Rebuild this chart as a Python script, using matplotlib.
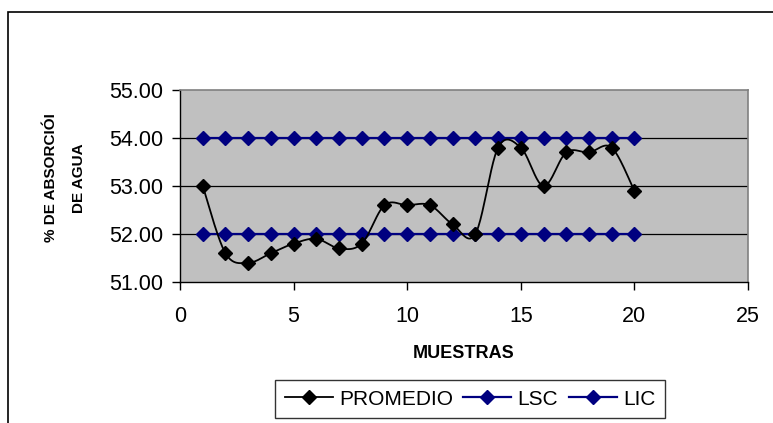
import numpy as np
import matplotlib
matplotlib.use("Agg")
import matplotlib.pyplot as plt
from matplotlib.patches import Rectangle

plt.rcParams['font.family'] = ['Liberation Sans', 'DejaVu Sans']

# chart data
muestras = list(range(1, 21))
promedio = [53.0, 51.6, 51.4, 51.6, 51.8, 51.9, 51.7, 51.8, 52.6, 52.6,
            52.6, 52.2, 52.0, 53.8, 53.8, 53.0, 53.7, 53.7, 53.8, 52.9]
lsc = [54.0] * 20
lic = [52.0] * 20
y_ticks = [51, 52, 53, 54, 55]
x_ticks = [0, 5, 10, 15, 20, 25]


def smooth(x, y, steps=24):
    # catmull-rom curve through the points, like excel's smoothed line
    x = np.asarray(x, float)
    y = np.asarray(y, float)
    px = np.concatenate([[x[0]], x, [x[-1]]])
    py = np.concatenate([[y[0]], y, [y[-1]]])
    xs, ys = [], []
    t = np.linspace(0, 1, steps)
    for i in range(1, len(px) - 2):
        for p, out in ((px, xs), (py, ys)):
            p0, p1, p2, p3 = p[i - 1], p[i], p[i + 1], p[i + 2]
            m1 = (p2 - p0) / 2
            m2 = (p3 - p1) / 2
            h00 = 2 * t**3 - 3 * t**2 + 1
            h10 = t**3 - 2 * t**2 + t
            h01 = -2 * t**3 + 3 * t**2
            h11 = t**3 - t**2
            out.extend(h00 * p1 + h10 * m1 + h01 * p2 + h11 * m2)
    return xs, ys


fig = plt.figure(figsize=(7.73, 4.23), dpi=100)
ax = fig.add_axes([180 / 773, 1 - 282 / 423, 568 / 773, 192 / 423])
ax.set_facecolor('#C0C0C0')

navy = '#000080'
for y in y_ticks[1:-1]:
    ax.axhline(y, color='black', lw=0.9, zorder=1)

lsc_line, = ax.plot(muestras, lsc, color=navy, lw=1.6, marker='D', ms=7.5,
                    mec=navy, mfc=navy, zorder=3)
lic_line, = ax.plot(muestras, lic, color=navy, lw=1.6, marker='D', ms=7.5,
                    mec=navy, mfc=navy, zorder=3)
sx, sy = smooth(muestras, promedio)
ax.plot(sx, sy, color='black', lw=1.3, zorder=4)
ax.plot(muestras, promedio, ls='none', marker='D', ms=7.5, color='black',
        zorder=5)

ax.set_xlim(0, 25)
ax.set_ylim(51, 55)
ax.set_xticks(x_ticks)
ax.set_yticks(y_ticks)
ax.set_yticklabels([f'{v:.2f}' for v in y_ticks])
ax.tick_params(axis='both', direction='out', length=6, width=1,
               labelsize=15.5, color='black')
ax.tick_params(axis='y', pad=6)
ax.tick_params(axis='x', pad=11)

for side in ('top', 'right'):
    ax.spines[side].set_color('#808080')
    ax.spines[side].set_linewidth(1.2)
for side in ('left', 'bottom'):
    ax.spines[side].set_color('black')
    ax.spines[side].set_linewidth(1)

ax.set_xlabel('MUESTRAS', fontsize=13, fontweight='bold')
ax.xaxis.set_label_coords(0.5, (282 - 353) / 192)
ax.xaxis.label.set_va('center')
ax.set_ylabel('% DE ABSORCIÓI\nDE AGUA', fontsize=11, fontweight='bold',
              linespacing=2.2)
ax.yaxis.set_label_coords((65 - 180) / 568, (282 - 178) / 192)
ax.yaxis.label.set_va('center')

# legend, with a black square frame
h_prom = plt.Line2D([], [], color='black', lw=1.3, marker='D', ms=7.5)
leg = fig.legend([h_prom, lsc_line, lic_line],
                 ['PROMEDIO', 'LSC', 'LIC'], ncol=3, fontsize=15,
                 loc='center', bbox_to_anchor=(470 / 773, 1 - 399 / 423),
                 frameon=True, fancybox=False, handlelength=2.3,
                 handletextpad=0.3, columnspacing=0.5, borderpad=0.45)
leg.get_frame().set_edgecolor('black')
leg.get_frame().set_linewidth(1)

# outer chart border (runs off the right and bottom of the picture)
fig.patches.append(Rectangle((8 / 773, -0.1), 1.2, 1 - 12 / 423 + 0.1,
                             transform=fig.transFigure, fill=False,
                             edgecolor='black', lw=1.2))

fig.savefig('out.png', dpi=100)
